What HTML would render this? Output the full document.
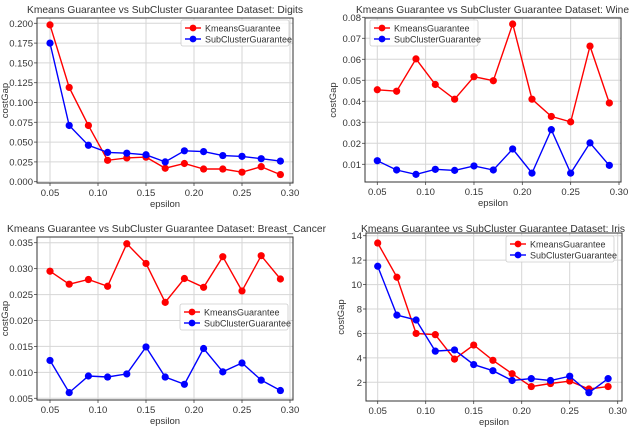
<!DOCTYPE html>
<html><head><meta charset="utf-8"><style>
html,body{margin:0;padding:0;background:#fff;width:640px;height:441px;overflow:hidden}
svg text{font-family:"Liberation Sans","DejaVu Sans",sans-serif;fill:#333}
</style></head><body>
<svg id="fig" width="640" height="441" viewBox="0 0 640 441" xmlns="http://www.w3.org/2000/svg"></svg>
<script>
const epsilon=[0.05,0.07,0.09,0.11,0.13,0.15,0.17,0.19,0.21,0.23,0.25,0.27,0.29];
const xTicks=[0.05,0.10,0.15,0.20,0.25,0.30];
const xTickLabels=["0.05","0.10","0.15","0.20","0.25","0.30"];
const digitsK=[0.198,0.119,0.071,0.027,0.030,0.031,0.017,0.023,0.016,0.016,0.012,0.019,0.009];
const digitsS=[0.175,0.071,0.046,0.037,0.036,0.034,0.025,0.039,0.038,0.033,0.032,0.029,0.026];
const digitsTicks=[0,0.025,0.05,0.075,0.1,0.125,0.15,0.175,0.2];
const digitsLabels=["0.000","0.025","0.050","0.075","0.100","0.125","0.150","0.175","0.200"];
const wineK=[0.0455,0.0448,0.0602,0.048,0.041,0.0517,0.0498,0.0768,0.041,0.0328,0.0302,0.0663,0.0392];
const wineS=[0.0117,0.0073,0.0052,0.0076,0.0071,0.0092,0.0073,0.0173,0.0058,0.0265,0.0058,0.0202,0.0095];
const wineTicks=[0.01,0.02,0.03,0.04,0.05,0.06,0.07,0.08];
const wineLabels=["0.01","0.02","0.03","0.04","0.05","0.06","0.07","0.08"];
const breastK=[0.0295,0.0270,0.0279,0.0266,0.0348,0.0310,0.0235,0.0281,0.0264,0.0323,0.0257,0.0325,0.0280];
const breastS=[0.0123,0.0061,0.0093,0.0091,0.0097,0.0149,0.0091,0.0077,0.0146,0.0101,0.0118,0.0085,0.0065];
const breastTicks=[0.005,0.01,0.015,0.02,0.025,0.03,0.035];
const breastLabels=["0.005","0.010","0.015","0.020","0.025","0.030","0.035"];
const irisK=[13.4,10.6,6.0,5.9,3.9,5.05,3.8,2.7,1.65,1.9,2.1,1.45,1.65];
const irisS=[11.5,7.5,7.1,4.55,4.65,3.45,2.95,2.15,2.3,2.15,2.5,1.15,2.3];
const irisTicks=[2,4,6,8,10,12,14];
const irisLabels=["2","4","6","8","10","12","14"];

const NS="http://www.w3.org/2000/svg";
const svg=document.getElementById('fig');
function mk(tag,attrs,parent,txt){const e=document.createElementNS(NS,tag);for(const k in attrs)e.setAttribute(k,attrs[k]);if(txt!==undefined)e.textContent=txt;(parent||svg).appendChild(e);return e;}

const panels=[
 {name:'digits',title:'Kmeans Guarantee vs SubCluster Guarantee Dataset: Digits',tx:27,tw:276,ty:13,box:[37,18,293,183],
  xp:[50,290],yv:[0,0.2],yp:[181.7,23.3],K:digitsK,S:digitsS,yt:digitsTicks,yl:digitsLabels,leg:[181,20]},
 {name:'wine',title:'Kmeans Guarantee vs SubCluster Guarantee Dataset: Wine',tx:356,tw:273,ty:13,box:[365,18,621,182],
  xp:[377.3,619],yv:[0.01,0.08],yp:[164.3,17.3],K:wineK,S:wineS,yt:wineTicks,yl:wineLabels,leg:[370,20]},
 {name:'breast-cancer',title:'Kmeans Guarantee vs SubCluster Guarantee Dataset: Breast_Cancer',tx:7,tw:319,ty:232,box:[37,237,293,400],
  xp:[50,290],yv:[0.005,0.035],yp:[398.3,242.7],K:breastK,S:breastS,yt:breastTicks,yl:breastLabels,leg:[180,304]},
 {name:'iris',title:'Kmeans Guarantee vs SubCluster Guarantee Dataset: Iris',tx:361,tw:264,ty:232,box:[366,233,622,401],
  xp:[377.7,617.7],yv:[2,14],yp:[382.3,235.7],K:irisK,S:irisS,yt:irisTicks,yl:irisLabels,leg:[506,236]}
];

panels.forEach(p=>{
 const g=mk('g',{});
 
 
 const xs=v=>p.xp[0]+(v-0.05)/(0.30-0.05)*(p.xp[1]-p.xp[0]);
 const ys=v=>p.yp[0]+(v-p.yv[0])/(p.yv[1]-p.yv[0])*(p.yp[1]-p.yp[0]);
 const [x0,y0,x1,y1]=p.box;
 const t=mk('text',{x:p.tx,y:p.ty,'font-size':'10.5',textLength:p.tw,lengthAdjust:'spacingAndGlyphs'},g,p.title);
 
 
 xTicks.forEach((v,i)=>{
  const x=xs(v);
  mk('line',{x1:x,x2:x,y1:y0,y2:y1,stroke:'#d6d6d6','stroke-width':1},g);
  mk('line',{x1:x,x2:x,y1:y1,y2:y1+3,stroke:'#444','stroke-width':0.8},g);
  const tl=mk('text',{x:x,y:y1+13,'font-size':'9.5','text-anchor':'middle'},g,xTickLabels[i]);
  
  
 });
 p.yt.forEach((v,i)=>{
  const y=ys(v);
  mk('line',{x1:x0,x2:x1,y1:y,y2:y,stroke:'#d6d6d6','stroke-width':1},g);
  mk('line',{x1:x0-3,x2:x0,y1:y,y2:y,stroke:'#444','stroke-width':0.8},g);
  const tl=mk('text',{x:x0-4,y:y+3.5,'font-size':'9.5','text-anchor':'end'},g,p.yl[i]);
  
  
 });
 mk('rect',{x:x0,y:y0,width:x1-x0,height:y1-y0,fill:'none',stroke:'#333','stroke-width':1},g);
 const xl=mk('text',{x:(x0+x1)/2,y:y1+24,'font-size':'9.5','text-anchor':'middle'},g,'epsilon');
 
 
 const yx=x0-(p.name==='iris'?22:29), yy=(y0+y1)/2;
 const yl=mk('text',{x:yx,y:yy,'font-size':'9.5','text-anchor':'middle',transform:`rotate(-90 ${yx} ${yy})`},g,'costGap');
 
 
 [[p.K,'#f00','kmeans'],[p.S,'#00f','subcluster']].forEach(([arr,c,nm])=>{
  const pts=arr.map((v,i)=>xs(epsilon[i]).toFixed(1)+','+ys(v).toFixed(1)).join(' ');
  const pl=mk('polyline',{points:pts,fill:'none',stroke:c,'stroke-width':1.4},g);
  
  
  arr.forEach((v,i)=>{
   const c2=mk('circle',{cx:xs(epsilon[i]),cy:ys(v),r:3.6,fill:c},g);
   
   
  });
 });
 const [lx,ly]=p.leg;
 const lg=mk('g',{},g);
 
 
 mk('rect',{x:lx,y:ly,width:108,height:26,fill:'#fff','fill-opacity':0.85,stroke:'#ccc','stroke-width':0.8,rx:2},lg);
 [['KmeansGuarantee','#f00',ly+8],['SubClusterGuarantee','#00f',ly+19]].forEach(([lab,c,yy2])=>{
  mk('line',{x1:lx+4,x2:lx+20,y1:yy2,y2:yy2,stroke:c,'stroke-width':1.4},lg);
  mk('circle',{cx:lx+12,cy:yy2,r:3.4,fill:c},lg);
  const lt=mk('text',{x:lx+24,y:yy2+3.3,'font-size':'9'},lg,lab);
  
  
 });
});
</script>
</body></html>
